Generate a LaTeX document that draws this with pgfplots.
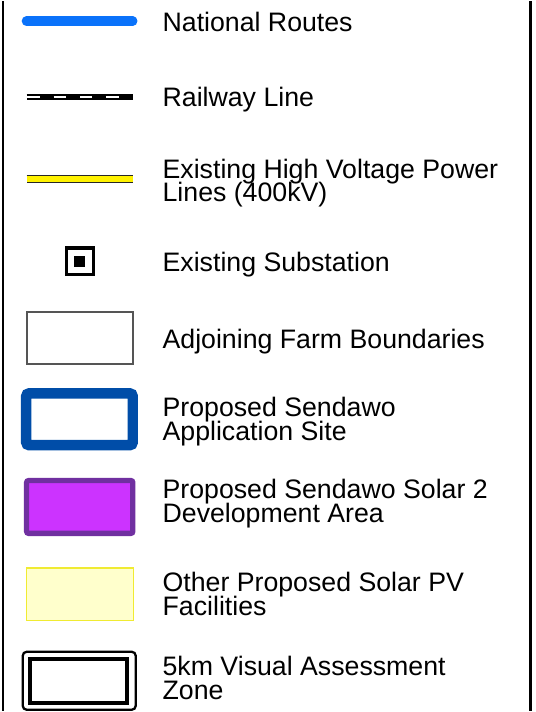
\documentclass[border=0pt]{standalone}
\usepackage{pgfplots}
\pgfplotsset{compat=1.18}
\usepackage{fontspec}
\setmainfont{Liberation Sans}
\definecolor{natroute}{RGB}{10,114,250}
\definecolor{appsite}{RGB}{0,77,168}
\definecolor{solarfill}{RGB}{204,51,255}
\definecolor{solarline}{RGB}{112,48,160}
\definecolor{pvfill}{RGB}{255,255,204}
\definecolor{pvline}{RGB}{240,235,50}
\definecolor{farmline}{RGB}{85,85,85}
\begin{document}
\begin{tikzpicture}[lbl/.style={anchor=base west, inner sep=0pt, font=\fontsize{26.8}{24}\selectfont}]
\begin{axis}[
  scale only axis, width=537pt, height=712pt,
  xmin=0, xmax=537, ymin=0, ymax=712, y dir=reverse,
  axis lines=none, ticks=none, clip=false,
  every axis plot/.append style={mark=none},
]
\path (rel axis cs:0,0) rectangle (rel axis cs:1,1);
% frame
\addplot[black, line width=2pt] coordinates {(3.5,0) (3.5,712)};
\addplot[black, line width=2.5pt] coordinates {(532.5,0) (532.5,712)};
% National routes
\addplot[natroute, line width=9.5pt, line cap=round] coordinates {(26.5,20) (133.2,20)};
% Railway
\addplot[black, line width=6pt] coordinates {(26.7,96.3) (133.3,96.3)};
\addplot[white, line width=2.4pt, dash pattern=on 12.5pt off 14pt] coordinates {(27.3,96.3) (120,96.3)};
% HV power line
\addplot[black!85, line width=8.4pt] coordinates {(26.7,178.5) (133.3,178.5)};
\addplot[yellow, line width=5.4pt] coordinates {(26.7,178.5) (133.3,178.5)};
% Substation
\addplot[black, line width=3.3pt] coordinates {(66.5,247.5) (93.5,247.5) (93.5,274.5) (66.5,274.5)} -- cycle;
\addplot[black, fill=black, line width=0pt] coordinates {(75,256) (85,256) (85,266) (75,266)} -- cycle;
% Farm boundaries
\addplot[farmline, line width=2pt] coordinates {(27,311.6) (133.4,311.6) (133.4,364.2) (27,364.2)} -- cycle;
% Application site
\addplot[appsite, line width=10.5pt, rounded corners=3pt] coordinates {(26.3,393.5) (133.2,393.5) (133.2,445.5) (26.3,445.5)} -- cycle;
% Solar 2
\addplot[solarline, fill=solarfill, line width=5.3pt, rounded corners=2pt] coordinates {(26.7,481) (133.3,481) (133.3,534) (26.7,534)} -- cycle;
% Other PV
\addplot[pvline, fill=pvfill, line width=1.2pt] coordinates {(26.5,568.8) (133.7,568.8) (133.7,621.3) (26.5,621.3)} -- cycle;
% 5km zone
\addplot[black, line width=2.3pt, rounded corners=4pt] coordinates {(22.8,652.8) (136.2,652.8) (136.2,711) (22.8,711)} -- cycle;
\addplot[black, line width=4pt] coordinates {(30.3,660.3) (127.3,660.3) (127.3,704) (30.3,704)} -- cycle;
% labels
\node[lbl] at (axis cs:163,30) {National Routes};
\node[lbl] at (axis cs:163,106) {Railway Line};
\node[lbl] at (axis cs:163,177.5) {Existing High Voltage Power};
\node[lbl] at (axis cs:163,201) {Lines (400kV)};
\node[lbl] at (axis cs:163,271) {Existing Substation};
\node[lbl] at (axis cs:163,348) {Adjoining Farm Boundaries};
\node[lbl] at (axis cs:163,417) {Proposed Sendawo};
\node[lbl] at (axis cs:163,441) {Application Site};
\node[lbl] at (axis cs:163,499) {Proposed Sendawo Solar 2};
\node[lbl] at (axis cs:163,523) {Development Area};
\node[lbl] at (axis cs:163,592) {Other Proposed Solar PV};
\node[lbl] at (axis cs:163,616) {Facilities};
\node[lbl] at (axis cs:163,677) {5km Visual Assessment};
\node[lbl] at (axis cs:163,701) {Zone};
\end{axis}
\end{tikzpicture}
\end{document}
